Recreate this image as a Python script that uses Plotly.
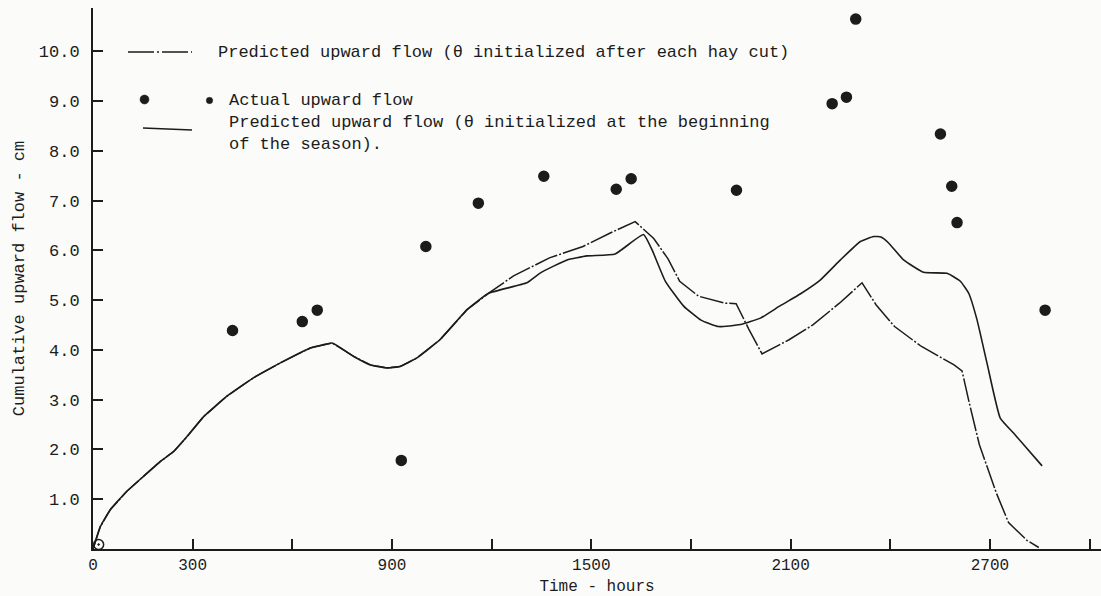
import plotly.graph_objects as go

# ---------------- data ----------------
# Predicted upward flow, theta initialized at the beginning of the season (solid)
season_x = [0, 22, 52, 102, 152, 203, 243, 283, 333, 403, 483, 564, 654, 690, 720,
            785, 835, 885, 925, 975, 1045, 1126, 1191, 1306, 1347, 1427, 1487, 1572,
            1657, 1683, 1723, 1778, 1830, 1883, 1949, 2009, 2069, 2130, 2190, 2250,
            2310, 2350, 2372, 2395, 2440, 2500, 2571, 2611, 2636, 2661, 2691, 2731,
            2771, 2857]
season_y = [0.0, 0.45, 0.79, 1.16, 1.46, 1.76, 1.96, 2.26, 2.66, 3.07, 3.44, 3.74,
            4.04, 4.10, 4.14, 3.87, 3.70, 3.64, 3.67, 3.84, 4.21, 4.81, 5.14, 5.35,
            5.55, 5.81, 5.89, 5.93, 6.32, 6.01, 5.38, 4.88, 4.60, 4.47, 4.51, 4.64,
            4.89, 5.13, 5.41, 5.81, 6.18, 6.28, 6.27, 6.15, 5.81, 5.56, 5.54, 5.38,
            5.14, 4.61, 3.74, 2.63, 2.33, 1.67]

# Predicted upward flow, theta initialized after each hay cut (dash-dot)
cut_x = [0, 22, 52, 102, 152, 203, 243, 283, 333, 403, 483, 564, 654, 690, 720,
         785, 835, 885, 925, 975, 1045, 1126, 1191, 1266, 1374, 1475, 1557, 1632,
         1688, 1731, 1766, 1823, 1903, 1936, 1974, 2014, 2094, 2166, 2247, 2315,
         2357, 2413, 2494, 2592, 2616, 2638, 2668, 2719, 2756, 2812, 2847]
cut_y = [0.0, 0.45, 0.79, 1.16, 1.46, 1.76, 1.96, 2.26, 2.66, 3.07, 3.44, 3.74,
         4.04, 4.10, 4.14, 3.87, 3.70, 3.64, 3.67, 3.84, 4.21, 4.81, 5.14, 5.49,
         5.85, 6.08, 6.35, 6.58, 6.24, 5.83, 5.38, 5.08, 4.94, 4.93, 4.42, 3.92,
         4.20, 4.50, 4.94, 5.35, 4.91, 4.47, 4.07, 3.70, 3.58, 2.93, 2.10, 1.13,
         0.53, 0.17, 0.03]

# Actual upward flow (dots)
actual_x = [17, 420, 630, 675, 928, 1002, 1160, 1357, 1575, 1620, 1937, 2225, 2268,
            2296, 2551, 2585, 2601, 2866]
actual_y = [0.09, 4.39, 4.57, 4.80, 1.78, 6.08, 6.95, 7.49, 7.23, 7.44, 7.21, 8.95,
            9.08, 10.65, 8.34, 7.29, 6.56, 4.80]

x_tickvals = [0, 300, 600, 900, 1200, 1500, 1800, 2100, 2400, 2700, 3000]
x_ticktext = ["0", "300", "", "900", "", "1500", "", "2100", "", "2700", ""]
y_tickvals = [1, 2, 3, 4, 5, 6, 7, 8, 9, 10]
y_ticktext = ["1.0", "2.0", "3.0", "4.0", "5.0", "6.0", "7.0", "8.0", "9.0", "10.0"]

legend_cut = "Predicted upward flow (\u03b8 initialized after each hay cut)"
legend_actual = "Actual upward flow"
legend_season = "Predicted upward flow (\u03b8 initialized at the beginning<br>of the season)."

# ---------------- styling ----------------
W, H = 1101, 596
ML, MR, MT, MB = 93, 0, 8, 47
INK = "#1c1c1c"
FONT = "Liberation Mono, Courier New, monospace"
BG = "#fbfbf9"

fig = go.Figure()

fig.add_trace(go.Scatter(
    x=season_x, y=season_y, mode="lines",
    line=dict(color=INK, width=1.6, shape="spline", smoothing=0.4),
    showlegend=False, hoverinfo="skip"))

fig.add_trace(go.Scatter(
    x=cut_x, y=cut_y, mode="lines",
    line=dict(color=INK, width=1.5, dash="24px,2px,2px,2px"),
    showlegend=False, hoverinfo="skip"))

symbols = ["circle-open-dot"] + ["circle"] * (len(actual_x) - 1)
fig.add_trace(go.Scatter(
    x=actual_x, y=actual_y, mode="markers",
    marker=dict(color=INK, size=10, symbol=symbols, line=dict(color=INK, width=1.5)),
    showlegend=False, hoverinfo="skip"))

plot_w = W - ML - MR
plot_h = H - MT - MB


def px(xp, yp):
    return (xp - ML) / plot_w, (H - MB - yp) / plot_h


shapes = []
# legend sample: dash-dot line
x0, y0 = px(128, 52)
x1, y1 = px(192, 52)
shapes.append(dict(type="line", xref="paper", yref="paper", x0=x0, y0=y0, x1=x1, y1=y1,
                   line=dict(color=INK, width=1.6, dash="26px,3px,2px,3px")))
# legend sample: dots
for (cx, cy, r) in [(144.5, 99.5, 4.5), (209.5, 100.5, 3.2)]:
    a0, b0 = px(cx - r, cy + r)
    a1, b1 = px(cx + r, cy - r)
    shapes.append(dict(type="circle", xref="paper", yref="paper", x0=a0, y0=b0, x1=a1, y1=b1,
                       fillcolor=INK, line=dict(color=INK, width=0.5)))
# legend sample: solid line
x0, y0 = px(143, 128)
x1, y1 = px(192, 130)
shapes.append(dict(type="line", xref="paper", yref="paper", x0=x0, y0=y0, x1=x1, y1=y1,
                   line=dict(color=INK, width=1.6)))

annotations = []
for (tx, ty, txt, yanchor) in [(216, 52, legend_cut, "middle"),
                               (227, 100, legend_actual, "middle"),
                               (227, 111, legend_season, "top")]:
    ax, ay = px(tx, ty)
    annotations.append(dict(x=ax, y=ay, xref="paper", yref="paper", text=txt,
                            showarrow=False, xanchor="left", yanchor=yanchor, align="left",
                            font=dict(family=FONT, size=17, color=INK)))

fig.update_layout(
    width=W, height=H,
    margin=dict(l=ML, r=MR, t=MT, b=MB, pad=0),
    paper_bgcolor=BG, plot_bgcolor=BG,
    font=dict(family=FONT, size=17, color=INK),
    shapes=shapes, annotations=annotations,
    xaxis=dict(range=[0, plot_w / 0.3322], showgrid=False, zeroline=False,
               showline=True, linecolor=INK, linewidth=2,
               ticks="inside", ticklen=10, tickwidth=1.5, tickcolor=INK,
               tickvals=x_tickvals, ticktext=x_ticktext, ticklabelstandoff=0,
               tickfont=dict(family=FONT, size=16, color=INK),
               title=dict(text="Time - hours", font=dict(family=FONT, size=16, color=INK),
                          standoff=8),
               automargin=False),
    yaxis=dict(range=[0, plot_h / 49.76], showgrid=False, zeroline=False,
               showline=True, linecolor=INK, linewidth=2,
               ticks="inside", ticklen=10, tickwidth=1.5, tickcolor=INK,
               tickvals=y_tickvals, ticktext=y_ticktext, ticklabelstandoff=8,
               title=dict(text="Cumulative upward flow - cm",
                          font=dict(family=FONT, size=17, color=INK), standoff=10),
               automargin=False),
)

fig.write_html("out.html")
